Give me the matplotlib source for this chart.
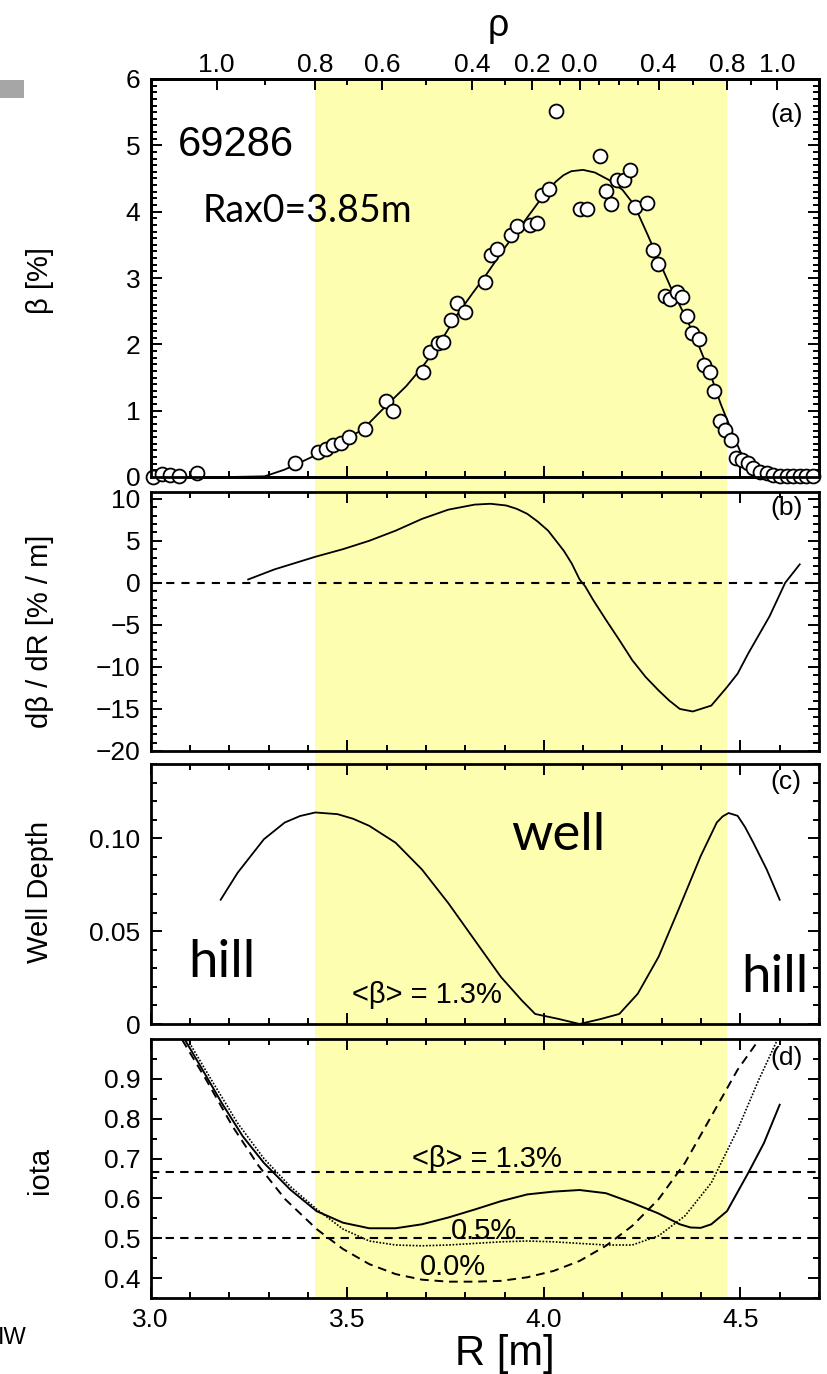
import matplotlib
matplotlib.use("Agg")
import matplotlib.pyplot as plt
import matplotlib.transforms as mtransforms
from matplotlib.patches import Rectangle
from matplotlib.ticker import MultipleLocator, FixedLocator, FixedFormatter

plt.rcParams['font.family'] = ['Liberation Sans', 'DejaVu Sans']

# ---------------------------------------------------------------- data
SHOT = "69286"
RAX_LABEL = "Rax0=3.85m"

# (a) beta profile: measured points and fitted curve
beta_pts_R = [3.007, 3.028, 3.049, 3.073, 3.117, 3.366, 3.425, 3.446, 3.463, 3.484,
              3.504, 3.544, 3.599, 3.617, 3.692, 3.711, 3.730, 3.744, 3.764, 3.780,
              3.800, 3.850, 3.865, 3.882, 3.916, 3.933, 3.966, 3.983, 3.996, 4.013,
              4.032, 4.093, 4.110, 4.142, 4.157, 4.172, 4.186, 4.203, 4.218, 4.233,
              4.262, 4.278, 4.290, 4.307, 4.320, 4.338, 4.351, 4.364, 4.378, 4.395,
              4.408, 4.423, 4.434, 4.449, 4.461, 4.476, 4.489, 4.503, 4.520, 4.533,
              4.550, 4.567, 4.584, 4.601, 4.618, 4.635, 4.652, 4.668, 4.685]
beta_pts = [0.00, 0.05, 0.03, 0.02, 0.06, 0.21, 0.37, 0.42, 0.48, 0.51,
            0.60, 0.73, 1.14, 0.99, 1.59, 1.88, 2.02, 2.03, 2.37, 2.63,
            2.49, 2.94, 3.35, 3.43, 3.65, 3.78, 3.80, 3.83, 4.25, 4.34,
            5.52, 4.04, 4.04, 4.84, 4.31, 4.11, 4.48, 4.47, 4.63, 4.07,
            4.13, 3.42, 3.21, 2.73, 2.68, 2.79, 2.71, 2.43, 2.17, 2.08,
            1.69, 1.59, 1.29, 0.85, 0.71, 0.56, 0.28, 0.26, 0.21, 0.13,
            0.08, 0.06, 0.03, 0.02, 0.02, 0.01, 0.01, 0.01, 0.01]

beta_fit_R = [3.20, 3.29, 3.34, 3.37, 3.42, 3.48, 3.54, 3.60, 3.65, 3.69, 3.73,
              3.78, 3.82, 3.85, 3.90, 3.95, 4.00, 4.03, 4.05, 4.07, 4.10, 4.13,
              4.165, 4.20, 4.23, 4.265, 4.29, 4.325, 4.36, 4.39, 4.425, 4.45,
              4.48, 4.50, 4.53, 4.56, 4.62, 4.70]
beta_fit = [0.0, 0.01, 0.11, 0.19, 0.33, 0.51, 0.72, 1.08, 1.37, 1.65, 1.97,
            2.45, 2.78, 3.02, 3.45, 3.85, 4.25, 4.45, 4.55, 4.61, 4.63, 4.59,
            4.48, 4.33, 4.10, 3.64, 3.30, 2.83, 2.42, 2.04, 1.53, 1.10,
            0.66, 0.38, 0.16, 0.06, 0.01, 0.0]

# (b) pressure gradient
dbeta_R = [3.248, 3.315, 3.419, 3.489, 3.556, 3.623, 3.690, 3.757, 3.824, 3.864,
           3.904, 3.931, 3.958, 3.984, 4.011, 4.051, 4.071, 4.091, 4.105, 4.125,
           4.158, 4.192, 4.225, 4.259, 4.292, 4.319, 4.346, 4.379, 4.426, 4.466,
           4.493, 4.520, 4.547, 4.574, 4.614, 4.651]
dbeta = [0.4, 1.6, 3.1, 4.0, 5.0, 6.2, 7.6, 8.7, 9.3, 9.4,
         9.2, 8.8, 8.2, 7.3, 6.2, 3.8, 2.3, 0.4, -0.4, -2.0,
         -4.4, -6.8, -9.2, -11.2, -12.8, -14.0, -15.0, -15.3, -14.6, -12.4,
         -10.8, -8.4, -6.2, -4.0, 0.0, 2.2]

# (c) magnetic well depth at <beta> = 1.3 %
well_R = [3.178, 3.221, 3.288, 3.341, 3.380, 3.419, 3.475, 3.515, 3.556, 3.623,
          3.690, 3.757, 3.824, 3.891, 3.944, 3.978, 4.038, 4.091, 4.145, 4.192,
          4.239, 4.292, 4.346, 4.399, 4.440, 4.455, 4.470, 4.493, 4.512, 4.533,
          4.567, 4.600]
well = [0.0669, 0.0814, 0.0995, 0.1085, 0.1120, 0.1139, 0.1130, 0.1105, 0.1067, 0.0976,
        0.0832, 0.0651, 0.0452, 0.0253, 0.0127, 0.0054, 0.0027, 0.0, 0.0027, 0.0054,
        0.0163, 0.0362, 0.0633, 0.0904, 0.1085, 0.1118, 0.1136, 0.1121, 0.1060, 0.0976,
        0.0832, 0.0669]

# (d) rotational transform for three beta values
iota13_R = [3.087, 3.127, 3.181, 3.234, 3.288, 3.355, 3.422, 3.489, 3.556, 3.623,
            3.690, 3.757, 3.824, 3.891, 3.958, 4.025, 4.091, 4.158, 4.225, 4.292,
            4.346, 4.373, 4.399, 4.426, 4.466, 4.520, 4.560, 4.600]
iota13 = [0.998, 0.931, 0.839, 0.756, 0.689, 0.622, 0.568, 0.539, 0.525, 0.525,
          0.535, 0.552, 0.572, 0.593, 0.610, 0.617, 0.621, 0.613, 0.589, 0.562,
          0.535, 0.527, 0.526, 0.535, 0.568, 0.664, 0.739, 0.835]
iota05_R = [3.094, 3.154, 3.221, 3.288, 3.355, 3.422, 3.489, 3.556, 3.623, 3.690,
            3.757, 3.824, 3.891, 3.958, 4.025, 4.091, 4.158, 4.225, 4.292, 4.359,
            4.426, 4.493, 4.547, 4.594]
iota05 = [0.998, 0.898, 0.789, 0.700, 0.630, 0.573, 0.523, 0.493, 0.483, 0.481,
          0.483, 0.487, 0.491, 0.493, 0.491, 0.487, 0.483, 0.483, 0.506, 0.556,
          0.639, 0.773, 0.898, 0.998]
iota00_R = [3.080, 3.141, 3.208, 3.275, 3.342, 3.422, 3.489, 3.556, 3.623, 3.690,
            3.757, 3.824, 3.891, 3.958, 4.025, 4.091, 4.158, 4.225, 4.292, 4.359,
            4.426, 4.493, 4.547]
iota00 = [0.998, 0.898, 0.781, 0.681, 0.598, 0.523, 0.473, 0.435, 0.410, 0.396,
          0.391, 0.391, 0.393, 0.402, 0.418, 0.443, 0.481, 0.531, 0.598, 0.689,
          0.806, 0.923, 0.998]
iota_rational = [2 / 3, 0.5]

# normalised minor radius rho along R (top axis of panel a)
rho_tick_R = [3.168, 3.418, 3.589, 3.817, 3.971, 4.091, 4.292, 4.467, 4.594]
rho_tick_labels = ['1.0', '0.8', '0.6', '0.4', '0.2', '0.0', '0.4', '0.8', '1.0']
rho_minor_R = [3.29, 3.50, 3.70, 3.90, 4.04, 4.14, 4.19, 4.24, 4.38, 4.528]
core_R = (3.418, 4.465)   # rho < 0.8

# ---------------------------------------------------------------- layout
W_PX, H_PX = 827, 1374
fig = plt.figure(figsize=(W_PX / 100, H_PX / 100), dpi=100)
fig.patch.set_facecolor('white')

XL, XR = 150.7, 819.0


def rect(top, bot):
    return [XL / W_PX, 1 - bot / H_PX, (XR - XL) / W_PX, (bot - top) / H_PX]


ax_a = fig.add_axes(rect(79, 477))
ax_b = fig.add_axes(rect(492, 751))
ax_c = fig.add_axes(rect(764, 1024))
ax_d = fig.add_axes(rect(1039, 1298))
axes = [ax_a, ax_b, ax_c, ax_d]

TICK_FS = 19
TEXT_FS = 21
PANEL_FS = 19
for ax in axes:
    ax.set_facecolor('none')
    ax.set_xlim(3.0, 4.7)
    ax.xaxis.set_major_locator(MultipleLocator(0.5))
    ax.xaxis.set_minor_locator(MultipleLocator(0.1))
    ax.tick_params(which='both', direction='in', top=True, right=True,
                   width=1.4, labelsize=TICK_FS, pad=7.5)
    ax.tick_params(which='major', length=8)
    ax.tick_params(which='minor', length=4)
    ax.tick_params(axis='x', pad=7.5)
    for s in ax.spines.values():
        s.set_linewidth(2.0)
    if ax is not ax_d:
        ax.tick_params(labelbottom=False)

# shaded core region rho < 0.8, continuous through all panels
band_tr = mtransforms.blended_transform_factory(ax_d.transData, fig.transFigure)
y_lo, y_hi = 1 - 1298 / H_PX, 1 - 79 / H_PX
fig.add_artist(Rectangle((core_R[0], y_lo), core_R[1] - core_R[0], y_hi - y_lo,
                         transform=band_tr, facecolor='#FEFEB0', edgecolor='none',
                         zorder=-1))

# ---------------------------------------------------------------- (a)
ax_a.set_ylim(0, 6)
ax_a.yaxis.set_major_locator(MultipleLocator(1))
ax_a.yaxis.set_minor_locator(MultipleLocator(0.1))
ax_a.tick_params(top=False, which='both')
ax_a.plot(beta_fit_R, beta_fit, color='black', lw=1.3, zorder=2)
ax_a.plot(beta_pts_R, beta_pts, ls='none', marker='o', ms=10, mfc='white',
          mec='black', mew=1.3, clip_on=False, zorder=3)
ax_a.text(0.04, 0.834, SHOT, transform=ax_a.transAxes, fontsize=30,
          ha='left', va='center')
ax_a.text(0.078, 0.668, RAX_LABEL, transform=ax_a.transAxes, fontsize=27,
          family='Lato', ha='left', va='center')
ax_a.text(0.951, 0.91, '(a)', transform=ax_a.transAxes, fontsize=PANEL_FS,
          ha='center', va='center')

ax_t = ax_a.twiny()
ax_t.set_xlim(3.0, 4.7)
ax_t.xaxis.set_major_locator(FixedLocator(rho_tick_R))
ax_t.xaxis.set_major_formatter(FixedFormatter(rho_tick_labels))
ax_t.xaxis.set_minor_locator(FixedLocator(rho_minor_R))
ax_t.tick_params(which='both', direction='in', top=True, labeltop=True,
                 width=1.4, labelsize=TICK_FS, pad=1.5)
ax_t.tick_params(which='major', length=8)
ax_t.tick_params(which='minor', length=4)
for s in ax_t.spines.values():
    s.set_linewidth(2.0)
fig.text(498 / W_PX, 1 - 26 / H_PX, 'ρ', fontsize=27, ha='center', va='center')

# ---------------------------------------------------------------- (b)
ax_b.set_ylim(-20, 10.8)
ax_b.yaxis.set_major_locator(FixedLocator([-20, -15, -10, -5, 0, 5, 10]))
ax_b.yaxis.set_minor_locator(MultipleLocator(1))
ax_b.axhline(0, color='black', lw=1.5, ls=(0, (3.9, 3.4)), zorder=1)
ax_b.plot(dbeta_R, dbeta, color='black', lw=1.3, zorder=2)
ax_b.text(0.951, 0.938, '(b)', transform=ax_b.transAxes, fontsize=PANEL_FS,
          ha='center', va='center')

# ---------------------------------------------------------------- (c)
ax_c.set_ylim(0, 0.14)
ax_c.yaxis.set_major_locator(FixedLocator([0, 0.05, 0.10]))
ax_c.yaxis.set_major_formatter(FixedFormatter(['0', '0.05', '0.10']))
ax_c.yaxis.set_minor_locator(MultipleLocator(0.01))
ax_c.plot(well_R, well, color='black', lw=1.3, zorder=2)
ax_c.text(0.951, 0.93, '(c)', transform=ax_c.transAxes, fontsize=PANEL_FS,
          ha='center', va='center')
ax_c.text(0.301, 0.112, '<β> = 1.3%', transform=ax_c.transAxes, fontsize=TEXT_FS,
          ha='left', va='center')
ax_c.text(0.539, 0.669, 'well', transform=ax_c.transAxes, fontsize=38,
          family='Lato', ha='left', va='baseline')
ax_c.text(0.056, 0.181, 'hill', transform=ax_c.transAxes, fontsize=38,
          family='Lato', ha='left', va='baseline')
ax_c.text(0.883, 0.123, 'hill', transform=ax_c.transAxes, fontsize=38,
          family='Lato', ha='left', va='baseline')

# ---------------------------------------------------------------- (d)
ax_d.set_ylim(0.35, 1.0)
ax_d.yaxis.set_major_locator(FixedLocator([0.4, 0.5, 0.6, 0.7, 0.8, 0.9]))
ax_d.yaxis.set_major_formatter(FixedFormatter(['0.4', '0.5', '0.6', '0.7', '0.8', '0.9']))
ax_d.yaxis.set_minor_locator(FixedLocator([0.35, 0.45, 0.55, 0.65, 0.75, 0.85, 0.95]))
ax_d.xaxis.set_major_locator(FixedLocator([3.0, 3.5, 4.0, 4.5]))
ax_d.xaxis.set_major_formatter(FixedFormatter(['3.0', '3.5', '4.0', '4.5']))
for v in iota_rational:
    ax_d.axhline(v, color='black', lw=1.5, ls=(0, (4.0, 3.0)), zorder=1)
ax_d.plot(iota13_R, iota13, color='black', lw=1.4, zorder=2)
ax_d.plot(iota05_R, iota05, color='black', lw=1.2, ls=(0, (1, 1)), zorder=2)
ax_d.plot(iota00_R, iota00, color='black', lw=1.4, ls=(0, (4.5, 3.0)), zorder=2)
ax_d.text(3.856, 0.700, '<β> = 1.3%', fontsize=TEXT_FS, ha='center', va='center')
ax_d.text(3.848, 0.518, '0.5%', fontsize=TEXT_FS, ha='center', va='center')
ax_d.text(3.770, 0.429, '0.0%', fontsize=TEXT_FS, ha='center', va='center')
ax_d.text(0.951, 0.927, '(d)', transform=ax_d.transAxes, fontsize=PANEL_FS,
          ha='center', va='center')

fig.text(505 / W_PX, 1 - 1354 / H_PX, 'R [m]', fontsize=30, ha='center', va='center')

# ---------------------------------------------------------------- y labels
YL_X = 40 / W_PX
for label, yc in [('β [%]', 280), ('dβ / dR [% / m]', 631),
                  ('Well Depth', 892), ('iota', 1170)]:
    fig.text(YL_X, 1 - yc / H_PX, label, rotation=90, fontsize=21,
             ha='center', va='center')

# slide decorations at the left margin
fig.add_artist(Rectangle((0, 1 - 98 / H_PX), 24 / W_PX, 18 / H_PX,
                         transform=fig.transFigure, facecolor='#A6A6A6',
                         edgecolor='none'))
fig.text(27 / W_PX, 1 - 1338 / H_PX, 'IW', fontsize=17, ha='right', va='center')

fig.savefig('out.png', dpi=100)
